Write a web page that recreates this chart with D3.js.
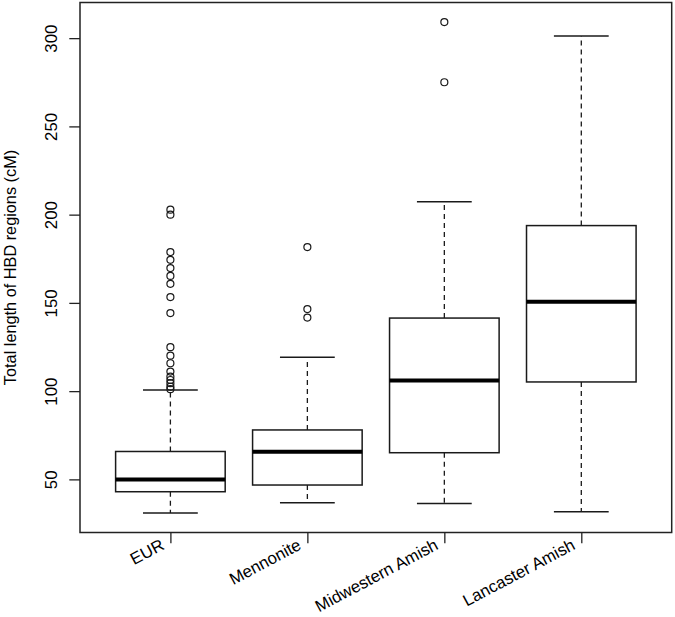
<!DOCTYPE html>
<html>
<head>
<meta charset="utf-8">
<script src="https://cdnjs.cloudflare.com/ajax/libs/d3/7.8.5/d3.min.js"></script>
<style>
  html, body { margin: 0; padding: 0; background: #fff; }
  svg { display: block; }
  text { font-family: "Liberation Sans", Arial, Helvetica, sans-serif; fill: #000; }
</style>
</head>
<body>
<svg id="chart" width="675" height="617"></svg>
<script>
// ---- data ----
const categories = ["EUR", "Mennonite", "Midwestern Amish", "Lancaster Amish"];
const whiskerLow  = [31.0, 36.7, 36.4, 31.6];
const q1          = [43.0, 46.8, 65.1, 105.2];
const median      = [50.0, 65.7, 106.0, 150.6];
const q3          = [65.8, 78.0, 141.4, 193.8];
const whiskerHigh = [100.7, 119.2, 207.3, 301.2];
const outliersEUR = [202.8, 200.0, 178.8, 174.4, 169.7, 165.3, 160.8, 153.3, 144.2,
                     124.9, 120.1, 115.8, 111.1, 108.2, 106.3, 104.5, 102.5, 101.1];
const outliersMennonite = [181.6, 146.5, 141.7];
const outliersMidwestern = [309.1, 275.0];
const outliersLancaster = [];
const yTicks = [50, 100, 150, 200, 250, 300];
const yLabel = "Total length of HBD regions (cM)";

const outliers = [outliersEUR, outliersMennonite, outliersMidwestern, outliersLancaster];
const groups = categories.map((c, i) => ({
  name: c, idx: i + 1,
  lo: whiskerLow[i], q1: q1[i], med: median[i], q3: q3[i], hi: whiskerHigh[i],
  out: outliers[i]
}));

// ---- layout ----
const mLeft = 80, mRight = 671.7, mTop = 2.5, mBottom = 532.5;
const fontSize = "16.8px";
const svg = d3.select("#chart");

const x = d3.scaleLinear().domain([0.34, 4.66]).range([mLeft, mRight]);
const y = d3.scaleLinear().domain([19.9, 320.2]).range([mBottom, mTop]);
const unit = x(1) - x(0);
const boxW = 0.8 * unit, capW = 0.4 * unit;
const stroke = "#1a1a1a";

const g = svg.append("g");

// whiskers (dashed)
g.selectAll(".wlo").data(groups).join("line")
  .attr("x1", d => x(d.idx)).attr("x2", d => x(d.idx))
  .attr("y1", d => y(d.q1)).attr("y2", d => y(d.lo))
  .attr("stroke", stroke).attr("stroke-width", 1.3).attr("stroke-dasharray", "5,4");
g.selectAll(".whi").data(groups).join("line")
  .attr("x1", d => x(d.idx)).attr("x2", d => x(d.idx))
  .attr("y1", d => y(d.q3)).attr("y2", d => y(d.hi))
  .attr("stroke", stroke).attr("stroke-width", 1.3).attr("stroke-dasharray", "5,4");

// caps
["lo", "hi"].forEach(k => {
  g.selectAll(".cap" + k).data(groups).join("line")
    .attr("x1", d => x(d.idx) - capW / 2).attr("x2", d => x(d.idx) + capW / 2)
    .attr("y1", d => y(d[k])).attr("y2", d => y(d[k]))
    .attr("stroke", stroke).attr("stroke-width", 1.5);
});

// boxes
g.selectAll(".box").data(groups).join("rect")
  .attr("x", d => x(d.idx) - boxW / 2).attr("width", boxW)
  .attr("y", d => y(d.q3)).attr("height", d => y(d.q1) - y(d.q3))
  .attr("fill", "#fff").attr("stroke", stroke).attr("stroke-width", 1.5);

// medians
g.selectAll(".med").data(groups).join("line")
  .attr("x1", d => x(d.idx) - boxW / 2).attr("x2", d => x(d.idx) + boxW / 2)
  .attr("y1", d => y(d.med)).attr("y2", d => y(d.med))
  .attr("stroke", "#000").attr("stroke-width", 4);

// outliers
groups.forEach(d => {
  g.selectAll(null).data(d.out).join("circle")
    .attr("cx", x(d.idx)).attr("cy", v => y(v)).attr("r", 3.5)
    .attr("fill", "none").attr("stroke", stroke).attr("stroke-width", 1.2);
});

// frame
svg.append("rect").attr("x", mLeft).attr("y", mTop)
  .attr("width", mRight - mLeft).attr("height", mBottom - mTop)
  .attr("fill", "none").attr("stroke", "#222").attr("stroke-width", 1.5);

// y axis
const yAxis = svg.append("g").attr("transform", `translate(${mLeft},0)`)
  .call(d3.axisLeft(y).tickValues(yTicks).tickSize(10.7).tickSizeOuter(0).tickPadding(0));
yAxis.select(".domain").remove();
yAxis.selectAll(".tick line").attr("stroke", "#222").attr("stroke-width", 1.3);
yAxis.selectAll(".tick text")
  .attr("x", null).attr("dy", null)
  .attr("transform", "translate(-23.5,0) rotate(-90)")
  .attr("text-anchor", "middle")
  .style("font-size", fontSize)
  .style("font-family", '"Liberation Sans", Arial, Helvetica, sans-serif');

// x axis
const xAxis = svg.append("g").attr("transform", `translate(0,${mBottom})`)
  .call(d3.axisBottom(x).tickValues([1, 2, 3, 4]).tickSize(10.7).tickSizeOuter(0).tickFormat(""));
xAxis.select(".domain").remove();
xAxis.selectAll(".tick line").attr("stroke", "#222").attr("stroke-width", 1.3);

svg.append("g").selectAll("text").data(groups).join("text")
  .attr("transform", d => `translate(${x(d.idx) - 5},${mBottom + 16}) rotate(-28)`)
  .attr("text-anchor", "end")
  .style("font-size", fontSize)
  .text(d => d.name);

// y label
svg.append("text")
  .attr("transform", `translate(16,${(mTop + mBottom) / 2}) rotate(-90)`)
  .attr("text-anchor", "middle")
  .style("font-size", "16.3px")
  .text(yLabel);
</script>
</body>
</html>
